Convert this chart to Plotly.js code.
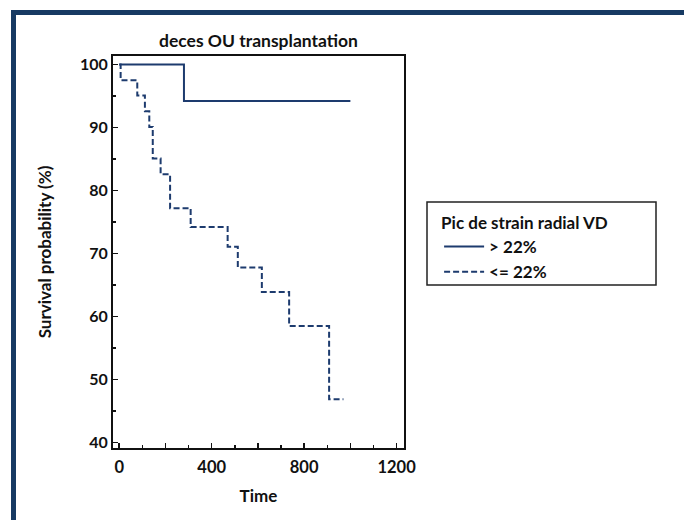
<!DOCTYPE html>
<html>
<head>
<meta charset="utf-8">
<script src="https://cdn.plot.ly/plotly-3.0.1.min.js"></script>
<style>
  html, body { margin: 0; padding: 0; background: #ffffff; }
  #chart { width: 684px; height: 520px; }
</style>
</head>
<body>
<div id="chart"></div>
<script>
// ---- data ----
const seriesNames = ["> 22%", "<= 22%"];
const highTime = [0, 280, 1000];
const highSurv = [100, 94.2, 94.2];
const lowTime = [0, 6, 78, 111, 130, 145, 179, 220, 309, 469, 513, 617, 735, 908, 970];
const lowSurv = [100, 97.5, 95.1, 92.6, 90.1, 85.1, 82.6, 77.2, 74.2, 71.1, 67.8, 63.9, 58.5, 46.9, 46.9];
const xTickVals = [0, 200, 400, 600, 800, 1000, 1200];
const xTickText = ["0", "", "400", "", "800", "", "1200"];
const yTickVals = [40, 50, 60, 70, 80, 90, 100];
const yTickText = ["40", "50", "60", "70", "80", "90", "100"];
const chartTitle = "deces OU transplantation";
const xTitle = "Time";
const yTitle = "Survival probability (%)";
const legendTitle = "Pic de strain radial VD";

const navy = "#1d3b6e";
const FONT = "Lato, 'Open Sans', sans-serif";

const traces = [
  {
    x: highTime, y: highSurv, name: seriesNames[0], type: "scatter", mode: "lines",
    line: { shape: "hv", color: navy, width: 2 }
  },
  {
    x: lowTime, y: lowSurv, name: seriesNames[1], type: "scatter", mode: "lines",
    line: { shape: "hv", color: navy, width: 2, dash: "6px,3px" }
  }
];

const layout = {
  width: 684, height: 520,
  margin: { l: 113, r: 280, t: 56, b: 72, pad: 0 },
  paper_bgcolor: "#ffffff", plot_bgcolor: "#ffffff",
  font: { family: FONT, color: "#111111", size: 15 },
  title: {
    text: chartTitle, x: 0.5, xref: "paper", xanchor: "center",
    y: 1 - 41 / 520, yanchor: "middle", yref: "container",
    font: { family: FONT, size: 17.5, weight: "bold", color: "#111111" }
  },
  showlegend: true,
  legend: {
    x: 1.1 + 6 / 291, y: 0.615, xanchor: "left", yanchor: "top",
    bgcolor: "rgba(0,0,0,0)", borderwidth: 0,
    title: { text: legendTitle, font: { family: FONT, size: 17, weight: "bold", color: "#111111" } },
    font: { family: FONT, size: 17, weight: "bold", color: "#111111" },
    itemwidth: 40, tracegroupgap: 0
  },
  xaxis: {
    range: [-27, 1232], showgrid: false, zeroline: false,
    showline: true, linecolor: "#111111", linewidth: 2, mirror: true,
    ticks: "inside", ticklen: 5, tickwidth: 1.5, tickcolor: "#111111",
    tickmode: "array", tickvals: xTickVals, ticktext: xTickText,
    ticklabelstandoff: 3,
    tickfont: { family: FONT, size: 16.5, weight: "bold", color: "#111111" },
    minor: { ticks: "inside", dtick: 100, tick0: 0, ticklen: 3, tickwidth: 1.5, tickcolor: "#111111", showgrid: false },
    title: { text: xTitle, standoff: 14, font: { family: FONT, size: 17, weight: "bold", color: "#111111" } },
    fixedrange: true
  },
  yaxis: {
    range: [39.15, 101.35], showgrid: false, zeroline: false,
    showline: true, linecolor: "#111111", linewidth: 2, mirror: true,
    ticks: "inside", ticklen: 5, tickwidth: 1.5, tickcolor: "#111111",
    tickmode: "array", tickvals: yTickVals, ticktext: yTickText,
    tickfont: { family: FONT, size: 16, weight: "bold", color: "#111111" },
    minor: { ticks: "inside", dtick: 5, tick0: 0, ticklen: 3, tickwidth: 1.5, tickcolor: "#111111", showgrid: false },
    title: { text: yTitle, standoff: 24, font: { family: FONT, size: 17, weight: "bold", color: "#111111" } },
    fixedrange: true
  },
  shapes: [
    // legend box
    { type: "rect", xref: "paper", yref: "paper",
      x0: (427 - 113) / 291, x1: (656 - 113) / 291,
      y0: (448 - 285) / 392, y1: (448 - 202) / 392,
      line: { color: "#222222", width: 1.5 }, fillcolor: "rgba(0,0,0,0)", layer: "above" },
    // dark frame: top and left edges
    { type: "rect", xref: "paper", yref: "paper",
      x0: (11 - 113) / 291, x1: (690 - 113) / 291,
      y0: (448 - 15) / 392, y1: (448 - 10) / 392,
      line: { width: 0 }, fillcolor: "#173a63", layer: "above" },
    { type: "rect", xref: "paper", yref: "paper",
      x0: (11 - 113) / 291, x1: (16 - 113) / 291,
      y0: (448 - 525) / 392, y1: (448 - 10) / 392,
      line: { width: 0 }, fillcolor: "#173a63", layer: "above" }
  ]
};

Plotly.newPlot("chart", traces, layout, { displayModeBar: false, staticPlot: true });
</script>
</body>
</html>
